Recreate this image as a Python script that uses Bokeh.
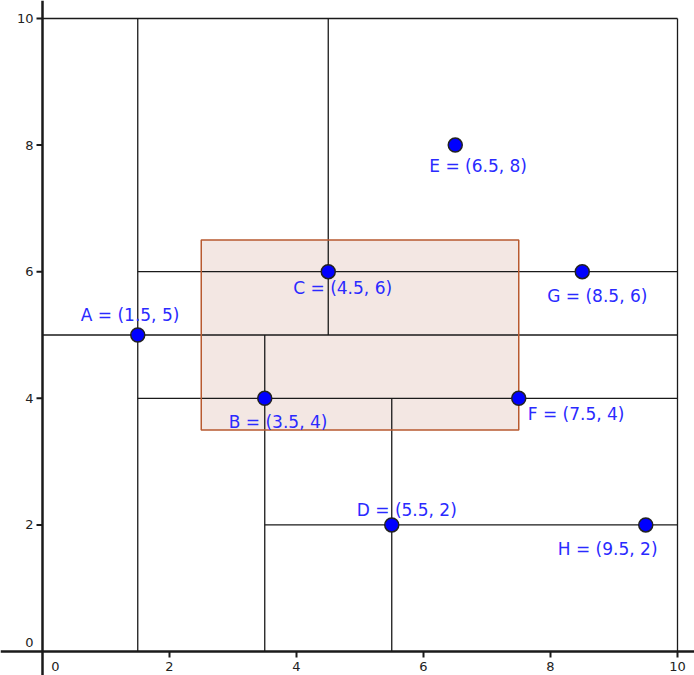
from bokeh.plotting import figure
from bokeh.models import Range1d, Span
from bokeh.embed import file_html
from bokeh.resources import INLINE
from bokeh.core.properties import value

# ---- data ----
names = ["A", "B", "C", "D", "E", "F", "G", "H"]
px = [1.5, 3.5, 4.5, 5.5, 6.5, 7.5, 8.5, 9.5]
py = [5, 4, 6, 2, 8, 4, 6, 2]

# kd-tree partition segments
seg_x0 = [1.5, 0, 1.5, 1.5, 4.5, 3.5, 5.5, 3.5, 0, 10]
seg_y0 = [0, 5, 6, 4, 5, 0, 0, 2, 10, 0]
seg_x1 = [1.5, 10, 10, 10, 4.5, 3.5, 5.5, 10, 10, 10]
seg_y1 = [10, 5, 6, 4, 10, 5, 4, 2, 10, 10]

# query rectangle
rect_left, rect_right = [2.5], [7.5]
rect_bottom, rect_top = [3.5], [6.5]

tick_vals = [2, 4, 6, 8, 10]
tick_labels = ["2", "4", "6", "8", "10"]

# ---- layout (pixel scale) ----
W, H = 694, 675
XPX = 63.5   # px per unit x
YPX = 63.3   # px per unit y
x0_px, y0_px = 42, 651   # position of origin inside canvas
x_start = -x0_px / XPX
x_end = (W - x0_px) / XPX
y_start = -(H - y0_px) / YPX
y_end = y0_px / YPX

p = figure(width=W, height=H, x_range=Range1d(x_start, x_end),
           y_range=Range1d(y_start, y_end), output_backend="svg",
           toolbar_location=None, x_axis_type=None, y_axis_type=None,
           min_border=0, outline_line_color=None)
p.xgrid.visible = False
p.ygrid.visible = False
p.background_fill_color = "white"

# rectangle fill
p.quad(left=rect_left, right=rect_right, bottom=rect_bottom, top=rect_top,
       fill_color="#f3e7e3", line_color=None)

# partition lines
p.segment(x0=seg_x0, y0=seg_y0, x1=seg_x1, y1=seg_y1,
          line_color="#1a1a1a", line_width=1.3)

# rectangle border
p.quad(left=rect_left, right=rect_right, bottom=rect_bottom, top=rect_top,
       fill_color=None, line_color="#b85a30", line_width=1.5)

# axes
p.add_layout(Span(location=0, dimension="width", line_color="#1a1a1a", line_width=2.5))
p.add_layout(Span(location=0, dimension="height", line_color="#1a1a1a", line_width=2.5))

tl = 6
p.segment(x0=tick_vals, y0=[0] * 5, x1=tick_vals, y1=[-tl / YPX] * 5,
          line_color="#1a1a1a", line_width=2)
p.segment(x0=[0] * 5, y0=tick_vals, x1=[-tl / XPX] * 5, y1=tick_vals,
          line_color="#1a1a1a", line_width=2)

tick_font = value("DejaVu Sans")
p.text(x=tick_vals, y=[0] * 5, text=tick_labels, text_align="center",
       text_baseline="middle", y_offset=15, text_font=tick_font,
       text_font_size="13px", text_color="#222222")
p.text(x=[0] * 5, y=tick_vals, text=tick_labels, text_align="right",
       text_baseline="middle", x_offset=-9, text_font=tick_font,
       text_font_size="13px", text_color="#222222")
p.text(x=[0], y=[0], text=["0"], text_align="center", text_baseline="middle",
       x_offset=13, y_offset=15, text_font=tick_font, text_font_size="13px",
       text_color="#222222")
p.text(x=[0], y=[0], text=["0"], text_align="right", text_baseline="middle",
       x_offset=-9, y_offset=-9, text_font=tick_font, text_font_size="13px",
       text_color="#222222")

# points
p.scatter(x=px, y=py, size=14, fill_color="#0000ff", line_color="#222222",
          line_width=1.5)

labels = [f"{n} = ({x:g}, {y:g})" for n, x, y in zip(names, px, py)]
lab_dx = [-57, -36, -35, -35, -26, 9, -35, -88]
lab_dy = [-20, 24, 16, -15, 21, 16, 24, 24]
p.text(x=px, y=py, text=labels, x_offset=lab_dx, y_offset=lab_dy,
       text_align="left", text_baseline="middle", text_font=value("DejaVu Sans"),
       text_font_size="17px", text_color="#2a2aff")

open("out.html", "w").write(file_html(p, INLINE))
